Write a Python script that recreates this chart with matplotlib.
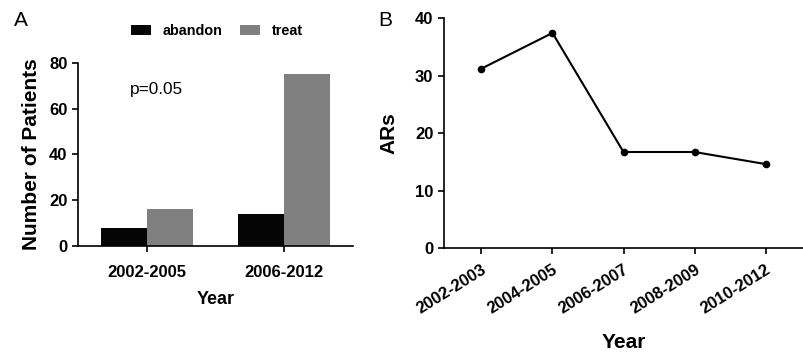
import numpy as np
import matplotlib
matplotlib.use("Agg")
import matplotlib.pyplot as plt

plt.rcParams['font.family'] = ['Liberation Sans', 'DejaVu Sans']

# panel A data
groups = ["2002-2005", "2006-2012"]
abandon = [8, 14]
treat = [16, 75]

# panel B data
periods = ["2002-2003", "2004-2005", "2006-2007", "2008-2009", "2010-2012"]
ars = [31.2, 37.4, 16.7, 16.7, 14.6]

fig = plt.figure(figsize=(8.04, 3.6), dpi=100)

def style_axes(ax):
    for s in ["top", "right"]:
        ax.spines[s].set_visible(False)
    for s in ["left", "bottom"]:
        ax.spines[s].set_linewidth(1.2)
    ax.tick_params(width=1.2, length=4, labelsize=12)
    for lab in ax.get_xticklabels() + ax.get_yticklabels():
        lab.set_fontweight("bold")

# ---- A ----
axA = fig.add_axes([0.097, 0.317, 0.342, 0.508])
x = np.arange(len(groups))
w = 0.335
b1 = axA.bar(x - w / 2, abandon, w, color="#050505", label="abandon")
b2 = axA.bar(x + w / 2, treat, w, color="#808080", label="treat")
axA.set_xlim(-0.5, 1.5)
axA.set_ylim(0, 80)
axA.set_yticks([0, 20, 40, 60, 80])
axA.set_xticks(x)
axA.set_xticklabels(groups)
style_axes(axA)
axA.tick_params(axis="x", pad=10)
axA.set_ylabel("Number of Patients", fontsize=15, fontweight="bold", labelpad=6)
axA.set_xlabel("Year", fontsize=13, fontweight="bold", labelpad=8)
axA.text(-0.124, 68.6, "p=0.05", fontsize=12.4, ha="left", va="center")
fig.text(0.017, 0.944, "A", fontsize=15, ha="left", va="center")
fig.legend(handles=[b1, b2], loc="center", bbox_to_anchor=(0.27, 0.914), ncol=2,
           frameon=False, handlelength=1.4, handleheight=0.65, columnspacing=1.2,
           handletextpad=0.8, prop={"size": 10.4, "weight": "bold"})

# ---- B ----
axB = fig.add_axes([0.552, 0.311, 0.447, 0.639])
xb = np.arange(len(periods))
axB.plot(xb, ars, color="black", lw=1.5, marker="o", ms=4.5)
axB.set_xlim(-0.53, 4.53)
axB.set_ylim(0, 40)
axB.set_yticks([0, 10, 20, 30, 40])
axB.set_xticks(xb)
axB.set_xticklabels(periods, rotation=32, ha="right", rotation_mode="anchor")
style_axes(axB)
axB.tick_params(axis="x", pad=6)
axB.set_ylabel("ARs", fontsize=15, fontweight="bold", labelpad=12)
axB.set_xlabel("Year", fontsize=15, fontweight="bold", labelpad=12)
fig.text(0.470, 0.944, "B", fontsize=15, ha="left", va="center")

fig.savefig("out.png", dpi=100)
